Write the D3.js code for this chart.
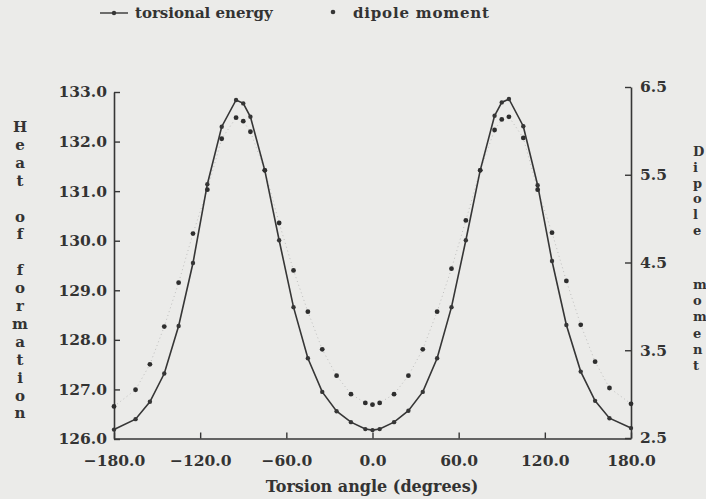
<!DOCTYPE html>
<html>
<head>
<meta charset="utf-8">
<script src="https://cdn.jsdelivr.net/npm/d3@7"></script>
<style>
  html, body { margin: 0; padding: 0; background: #ebebe9; }
  svg { display: block; }
  text { font-family: "DejaVu Serif", "Liberation Serif", serif; font-weight: bold; fill: #333; }
</style>
</head>
<body>
<svg id="chart" width="706" height="499"></svg>
<script>
// ---- data ----
const angles = [-180,-165,-155,-145,-135,-125,-115,-105,-95,-90,-85,-75,-65,-55,-45,-35,-25,-15,-5,0,
                5,15,25,35,45,55,65,75,85,90,95,105,115,125,135,145,155,165,180];
const torsionalEnergy = [126.19,126.40,126.75,127.32,128.28,129.55,131.14,132.30,132.84,132.77,132.50,131.42,130.01,128.66,127.63,126.95,126.56,126.34,126.20,126.18,
                         126.20,126.34,126.57,126.95,127.63,128.66,130.01,131.42,132.52,132.79,132.86,132.31,131.12,129.59,128.30,127.36,126.77,126.42,126.22];
const dipoleMoment = [2.86,3.05,3.34,3.77,4.27,4.83,5.33,5.91,6.15,6.11,5.99,5.55,4.95,4.41,3.94,3.51,3.21,3.00,2.90,2.88,
                      2.90,3.00,3.21,3.51,3.94,4.43,4.98,5.55,6.01,6.13,6.16,5.92,5.33,4.84,4.29,3.79,3.37,3.07,2.89];
const xTicks = [-180,-120,-60,0,60,120,180];
const leftTicks = [126,127,128,129,130,131,132,133];
const rightTicks = [2.5,3.5,4.5,5.5,6.5];
const yLabelLeft = "Heat of formation";
const yLabelRight = ["Dipole", "moment"];
const xLabel = "Torsion angle (degrees)";
const legendLabels = ["torsional energy", "dipole moment"];

const svg = d3.select("#chart");
const ink = "#363636";

const x = d3.scaleLinear().domain([-180, 180]).range([114, 631]);
const yL = d3.scaleLinear().domain([126, 133]).range([439, 92]);
const yR = d3.scaleLinear().domain([2.5, 6.5]).range([438, 87]);

// axes
const axisBottom = d3.axisBottom(x).tickValues(xTicks).tickSizeInner(-6).tickSizeOuter(0)
  .tickPadding(14).tickFormat(d => d3.format(".1f")(d).replace("-", "\u2212"));
const axisLeft = d3.axisLeft(yL).tickValues(leftTicks).tickSizeInner(-6).tickSizeOuter(0)
  .tickPadding(7).tickFormat(d3.format(".1f"));
const axisRight = d3.axisRight(yR).tickValues(rightTicks).tickSizeInner(-6).tickSizeOuter(0)
  .tickPadding(9).tickFormat(d3.format(".1f"));

function style(g) {
  g.select(".domain").attr("stroke", ink).attr("stroke-width", 1.6);
  g.selectAll(".tick line").attr("stroke", ink).attr("stroke-width", 1.4);
  g.selectAll(".tick text").style("font-size", "15.5px").attr("fill", "#333");
}

svg.append("g").attr("transform", "translate(0,438.5)").call(axisBottom).call(style)
  .selectAll(".tick text").attr("dy", "0.9em");
svg.append("g").attr("transform", "translate(114,0)").call(axisLeft).call(style);
svg.append("g").attr("transform", "translate(631,0)").call(axisRight).call(style);

// faint dotted connector for dipole points
const lineD = d3.line().x((d, i) => x(angles[i])).y(d => yR(d));
svg.append("path").datum(dipoleMoment).attr("d", lineD)
  .attr("fill", "none").attr("stroke", "#9a9a9a").attr("stroke-width", 0.8)
  .attr("stroke-dasharray", "1,3").attr("opacity", 0.7);

// torsional energy line
const lineE = d3.line().x((d, i) => x(angles[i])).y(d => yL(d));
svg.append("path").datum(torsionalEnergy).attr("d", lineE)
  .attr("fill", "none").attr("stroke", ink).attr("stroke-width", 1.6);
svg.append("g").selectAll("circle").data(torsionalEnergy).join("circle")
  .attr("cx", (d, i) => x(angles[i])).attr("cy", d => yL(d)).attr("r", 2.2).attr("fill", ink);

// dipole points
svg.append("g").selectAll("circle").data(dipoleMoment).join("circle")
  .attr("cx", (d, i) => x(angles[i])).attr("cy", d => yR(d)).attr("r", 2.4).attr("fill", "#2e2e2e");

// axis titles
svg.append("text").attr("x", 372).attr("y", 492).attr("text-anchor", "middle")
  .style("font-size", "16px").text(xLabel);

const leftLetters = yLabelLeft.split("");
svg.append("g").selectAll("text").data(leftLetters).join("text")
  .attr("x", 20).attr("y", (d, i) => 132 + i * 17.9).attr("text-anchor", "middle")
  .style("font-size", "15px").text(d => d);

const rightLetters = [];
yLabelRight[0].split("").forEach((c, i) => rightLetters.push({c, y: 156 + i * 15.8}));
yLabelRight[1].split("").forEach((c, i) => rightLetters.push({c, y: 289 + i * 16.2}));
svg.append("g").selectAll("text").data(rightLetters).join("text")
  .attr("x", 693).attr("y", d => d.y)
  .style("font-size", "13px").text(d => d.c);

// legend
const lg = svg.append("g");
lg.append("line").attr("x1", 100).attr("x2", 128).attr("y1", 13).attr("y2", 13)
  .attr("stroke", ink).attr("stroke-width", 1.4);
lg.append("circle").attr("cx", 114).attr("cy", 13).attr("r", 2.2).attr("fill", ink);
lg.append("text").attr("x", 135).attr("y", 18).style("font-size", "15px").text(legendLabels[0]);
lg.append("circle").attr("cx", 333).attr("cy", 12).attr("r", 2.3).attr("fill", ink);
lg.append("text").attr("x", 353).attr("y", 18).style("font-size", "15px")
  .style("letter-spacing", "0.8px").text(legendLabels[1]);
</script>
</body>
</html>
